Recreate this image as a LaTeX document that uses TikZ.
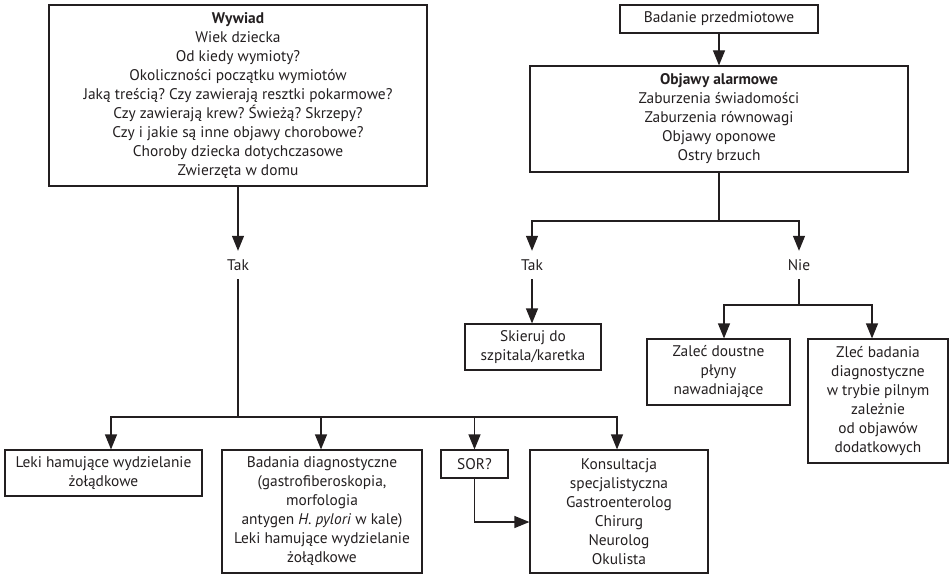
\documentclass[tikz,border=0pt]{standalone}
\usepackage{fontspec}
\setmainfont{PT Sans}
\frenchspacing
\usetikzlibrary{arrows.meta}
\definecolor{ink}{HTML}{231F20}
\begin{document}
\begin{tikzpicture}[x=1pt,y=-1pt,
    txt/.style={font=\fontsize{15.4}{19}\selectfont,text=ink},
    box/.style={txt,draw=ink,line width=1.2pt,align=center,inner sep=0pt},
    answer/.style={txt,inner sep=0pt,minimum height=28pt},
    link/.style={draw=ink,line width=1.2pt},
    arr/.style={link,-{Triangle[length=15pt,width=12pt]}}]
    \useasboundingbox (0,0) rectangle (949,575);
    % left column
    \node[box,minimum width=378pt,minimum height=181pt] (wywiad) at (238,95.5)
    {\textbf{Wywiad}\\Wiek dziecka\\Od kiedy wymioty?\\Okoliczności początku wymiotów\\
    Jaką treścią? Czy zawierają resztki pokarmowe?\\Czy zawierają krew? Świeżą? Skrzepy?\\
    Czy i jakie są inne objawy chorobowe?\\Choroby dziecka dotychczasowe\\Zwierzęta w domu};
    \node[answer] (tak1) at (238,265) {Tak};
    \coordinate (split1) at (238,417);
    \node[box,minimum width=197pt,minimum height=46pt] (leki) at (103.5,473)
    {Leki hamujące wydzielanie\\żołądkowe};
    \node[box,minimum width=200pt,minimum height=123pt] (badania) at (322,511.5)
    {Badania diagnostyczne\\(gastrofiberoskopia,\\morfologia\\antygen \textit{H. pylori} w kale)\\
    Leki hamujące wydzielanie\\żołądkowe};
    \node[box,minimum width=67pt,minimum height=28pt] (sor) at (474.5,464) {SOR?};
    \node[box,minimum width=178pt,minimum height=123pt] (konsult) at (619,511.5)
    {Konsultacja\\specjalistyczna\\Gastroenterolog\\Chirurg\\Neurolog\\Okulista};
    % right column
    \node[box,minimum width=198pt,minimum height=28pt] (badanie) at (719,19)
    {Badanie przedmiotowe};
    \node[box,minimum width=378pt,minimum height=106pt] (objawy) at (719,119)
    {\textbf{Objawy alarmowe}\\Zaburzenia świadomości\\Zaburzenia równowagi\\Objawy oponowe\\Ostry brzuch};
    \coordinate (split2) at (719,221);
    \node[answer] (tak2) at (532,265) {Tak};
    \node[answer] (nie) at (799,265) {Nie};
    \coordinate (split3) at (799,305);
    \node[box,minimum width=136pt,minimum height=46pt] (skieruj) at (533,347)
    {Skieruj do\\szpitala/karetka};
    \node[box,minimum width=143pt,minimum height=66pt] (zalec) at (718.5,372)
    {Zaleć doustne\\płyny\\nawadniające};
    \node[box,minimum width=140pt,minimum height=124pt] (zlec) at (878,401)
    {Zleć badania\\diagnostyczne\\w trybie pilnym\\zależnie\\od objawów\\dodatkowych};
    % connectors
    \draw[arr] (wywiad.south) -- (tak1.north);
    \draw[link] (tak1.south) -- (split1);
    \draw[arr] (split1) -| ([xshift=7.5pt]leki.north);
    \draw[arr] (split1) -| ([xshift=-1pt]badania.north);
    \draw[arr] (split1) -| (sor.north);
    \draw[arr] (split1) -| ([xshift=-2pt]konsult.north);
    \draw[arr] (sor.south) |- ([yshift=-10.5pt]konsult.west);
    \draw[arr] (badanie.south) -- (objawy.north);
    \draw[link] (objawy.south) -- (split2);
    \draw[arr] (split2) -| (tak2.north);
    \draw[arr] (split2) -| (nie.north);
    \draw[arr] (tak2.south) -- (tak2.south |- skieruj.north);
    \draw[link] (nie.south) -- (split3);
    \draw[arr] (split3) -| ([xshift=5.5pt]zalec.north);
    \draw[arr] (split3) -| ([xshift=-6pt]zlec.north);
\end{tikzpicture}
\end{document}
